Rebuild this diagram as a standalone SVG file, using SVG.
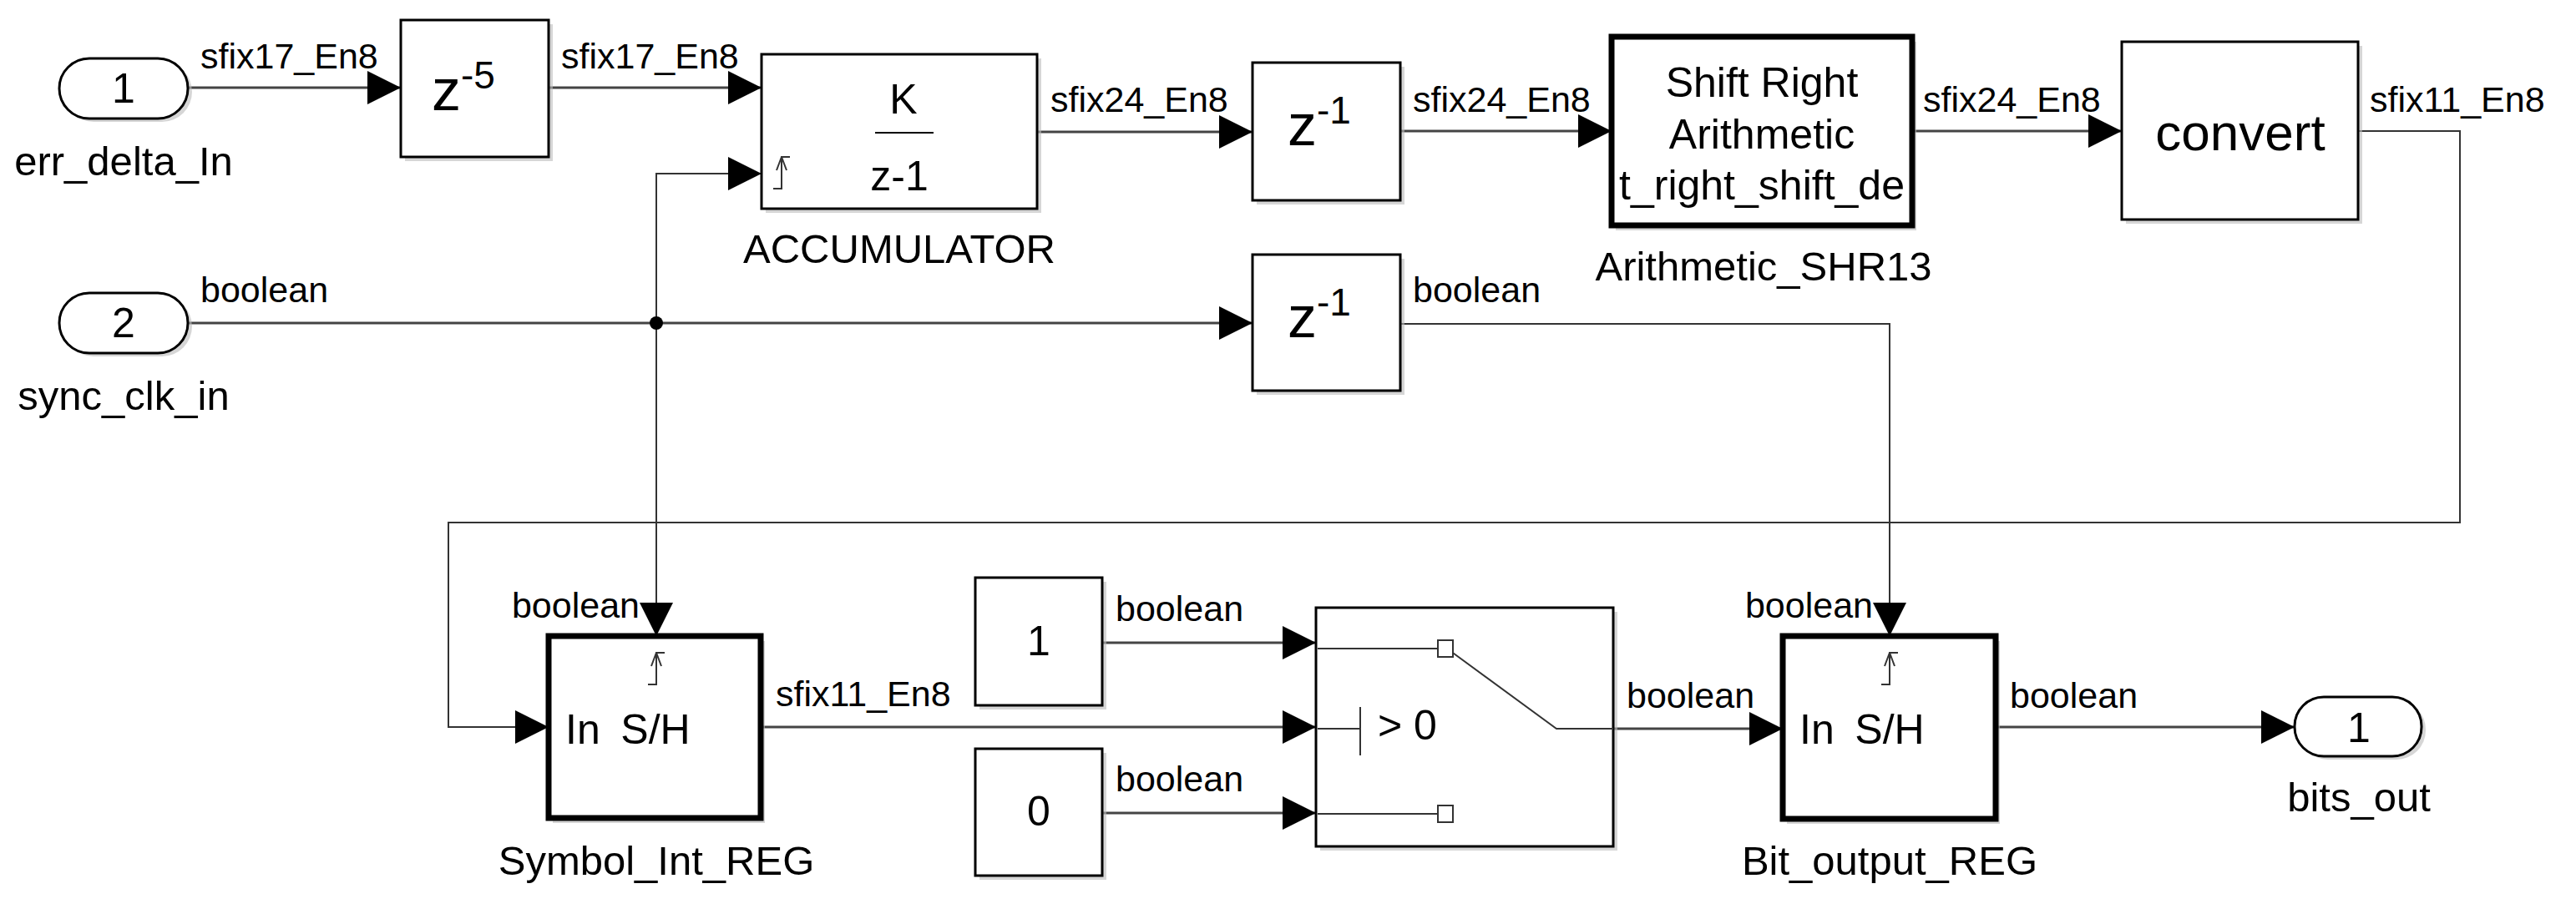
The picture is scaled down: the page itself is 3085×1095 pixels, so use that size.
<svg xmlns="http://www.w3.org/2000/svg" width="3085" height="1095" viewBox="0 0 3085 1095">
<style>
text{font-family:"Liberation Sans",Arial,sans-serif;fill:#000}
.lbl{font-size:43px}
.nm{font-size:49px;text-anchor:middle}
.big{font-size:50px;text-anchor:middle}
.blk{fill:#fff;stroke:#000;stroke-width:3}
.thk{fill:#fff;stroke:#000;stroke-width:7}
.sh{fill:#bbb;opacity:0.6}
.ln{fill:none;stroke:#444;stroke-width:3}
.thin{fill:none;stroke:#333;stroke-width:2}
</style>
<defs>
<marker id="a" viewBox="0 0 40 40" refX="40" refY="20" markerWidth="40" markerHeight="40" markerUnits="userSpaceOnUse" orient="auto">
<path d="M0,0 L40,20 L0,40 z" fill="#000"/>
</marker>
</defs>
<rect width="3085" height="1095" fill="#fff"/>

<g id="connectors">
<path class="ln" d="M225,105 H480" marker-end="url(#a)"/>
<path class="ln" d="M657,105 H912" marker-end="url(#a)"/>
<path class="ln" d="M1242,158 H1500" marker-end="url(#a)"/>
<path class="ln" d="M1677,157 H1930" marker-end="url(#a)"/>
<path class="ln" d="M2290,157 H2541" marker-end="url(#a)"/>
<path class="ln" d="M225,387 H1500" marker-end="url(#a)"/>
<path class="thin" d="M786,387 V208 H912" marker-end="url(#a)"/>
<path class="thin" d="M786,387 V762" marker-end="url(#a)"/>
<circle cx="786" cy="387" r="8" fill="#000"/>
<path class="thin" d="M1677,388 H2263 V762" marker-end="url(#a)"/>
<path class="thin" d="M2825,157 H2946 V626 H537 V871 H657" marker-end="url(#a)"/>
<path class="ln" d="M911,871 H1576" marker-end="url(#a)"/>
<path class="ln" d="M1320,770 H1576" marker-end="url(#a)"/>
<path class="ln" d="M1320,974 H1576" marker-end="url(#a)"/>
<path class="ln" d="M1932,873 H2135" marker-end="url(#a)"/>
<path class="ln" d="M2390,871 H2748" marker-end="url(#a)"/>
<text class="lbl" x="240" y="82">sfix17_En8</text>
<text class="lbl" x="672" y="82">sfix17_En8</text>
<text class="lbl" x="1258" y="134">sfix24_En8</text>
<text class="lbl" x="1692" y="134">sfix24_En8</text>
<text class="lbl" x="2303" y="134">sfix24_En8</text>
<text class="lbl" x="2838" y="134">sfix11_En8</text>
<text class="lbl" x="240" y="362">boolean</text>
<text class="lbl" x="1692" y="362">boolean</text>
<text class="lbl" x="766" y="740" text-anchor="end">boolean</text>
<text class="lbl" x="2243" y="740" text-anchor="end">boolean</text>
<text class="lbl" x="929" y="846">sfix11_En8</text>
<text class="lbl" x="1336" y="744">boolean</text>
<text class="lbl" x="1336" y="948">boolean</text>
<text class="lbl" x="1948" y="848">boolean</text>
<text class="lbl" x="2407" y="848">boolean</text>
</g>

<g id="in1">
<rect class="sh" x="76" y="74" width="154" height="72" rx="36"/>
<rect class="blk" x="71" y="70" width="154" height="72" rx="36"/>
<text class="big" x="148" y="123">1</text>
<text class="nm" x="148" y="210">err_delta_In</text>
</g>
<g id="in2">
<rect class="sh" x="76" y="355" width="154" height="72" rx="36"/>
<rect class="blk" x="71" y="351" width="154" height="72" rx="36"/>
<text class="big" x="148" y="404">2</text>
<text class="nm" x="148" y="491">sync_clk_in</text>
</g>
<g id="delay5">
<rect class="sh" x="485" y="29" width="177" height="164"/>
<rect class="blk" x="480" y="24" width="177" height="164"/>
<text x="555" y="132" font-size="70" text-anchor="middle">z<tspan font-size="46" dy="-26">-5</tspan></text>
</g>
<g id="accumulator">
<rect class="sh" x="917" y="70" width="330" height="185"/>
<rect class="blk" x="912" y="65" width="330" height="185"/>
<text class="big" x="1082" y="136">K</text>
<line x1="1048" y1="159" x2="1118" y2="159" stroke="#000" stroke-width="2"/>
<text class="big" x="1077" y="228">z-1</text>
<path d="M926,226 h10 v-38 h10 M936,188 l-6,16 M936,188 l6,16" class="thin"/>
<text class="nm" x="1077" y="315">ACCUMULATOR</text>
</g>
<g id="delay1a">
<rect class="sh" x="1505" y="80" width="177" height="165"/>
<rect class="blk" x="1500" y="75" width="177" height="165"/>
<text x="1580" y="174" font-size="70" text-anchor="middle">z<tspan font-size="46" dy="-26">-1</tspan></text>
</g>
<g id="shift">
<rect class="sh" x="1935" y="50" width="360" height="226"/>
<rect class="thk" x="1930" y="44" width="360" height="226"/>
<text class="big" x="2110" y="116">Shift Right</text>
<text class="big" x="2110" y="178">Arithmetic</text>
<text class="big" x="2110" y="239">t_right_shift_de</text>
<text class="nm" x="2112" y="336">Arithmetic_SHR13</text>
</g>
<g id="convert">
<rect class="sh" x="2546" y="55" width="283" height="213"/>
<rect class="blk" x="2541" y="50" width="283" height="213"/>
<text x="2683" y="180" font-size="62" text-anchor="middle">convert</text>
</g>
<g id="delay1b">
<rect class="sh" x="1505" y="310" width="177" height="163"/>
<rect class="blk" x="1500" y="305" width="177" height="163"/>
<text x="1580" y="404" font-size="70" text-anchor="middle">z<tspan font-size="46" dy="-26">-1</tspan></text>
</g>
<g id="symbol_int_reg">
<rect class="sh" x="662" y="768" width="254" height="218"/>
<rect class="thk" x="657" y="762" width="254" height="218"/>
<path d="M776,820 h10 v-38 h10 M786,782 l-6,16 M786,782 l6,16" class="thin"/>
<text x="677" y="891" font-size="50">In</text>
<text x="785" y="891" font-size="50" text-anchor="middle">S/H</text>
<text class="nm" x="786" y="1048">Symbol_Int_REG</text>
</g>
<g id="const1">
<rect class="sh" x="1173" y="697" width="152" height="153"/>
<rect class="blk" x="1168" y="692" width="152" height="153"/>
<text class="big" x="1244" y="785">1</text>
</g>
<g id="const0">
<rect class="sh" x="1173" y="902" width="152" height="152"/>
<rect class="blk" x="1168" y="897" width="152" height="152"/>
<text class="big" x="1244" y="989">0</text>
</g>
<g id="switch">
<rect class="sh" x="1581" y="733" width="356" height="286"/>
<rect class="blk" x="1576" y="728" width="356" height="286"/>
<path class="thin" d="M1578,777 H1722 M1578,975 H1722 M1578,873 H1629 M1629,847 V905 M1733,777 L1864,873 H1932"/>
<rect x="1722" y="767" width="18" height="20" fill="#fff" stroke="#333" stroke-width="2"/>
<rect x="1722" y="965" width="18" height="20" fill="#fff" stroke="#333" stroke-width="2"/>
<text x="1650" y="886" font-size="50">&gt; 0</text>
</g>
<g id="bit_output_reg">
<rect class="sh" x="2140" y="768" width="255" height="219"/>
<rect class="thk" x="2135" y="762" width="255" height="219"/>
<path d="M2253,820 h10 v-38 h10 M2263,782 l-6,16 M2263,782 l6,16" class="thin"/>
<text x="2155" y="891" font-size="50">In</text>
<text x="2263" y="891" font-size="50" text-anchor="middle">S/H</text>
<text class="nm" x="2263" y="1048">Bit_output_REG</text>
</g>
<g id="out1">
<rect class="sh" x="2753" y="839" width="152" height="71" rx="35"/>
<rect class="blk" x="2748" y="835" width="152" height="71" rx="35"/>
<text class="big" x="2825" y="889">1</text>
<text class="nm" x="2825" y="972">bits_out</text>
</g>
</svg>
